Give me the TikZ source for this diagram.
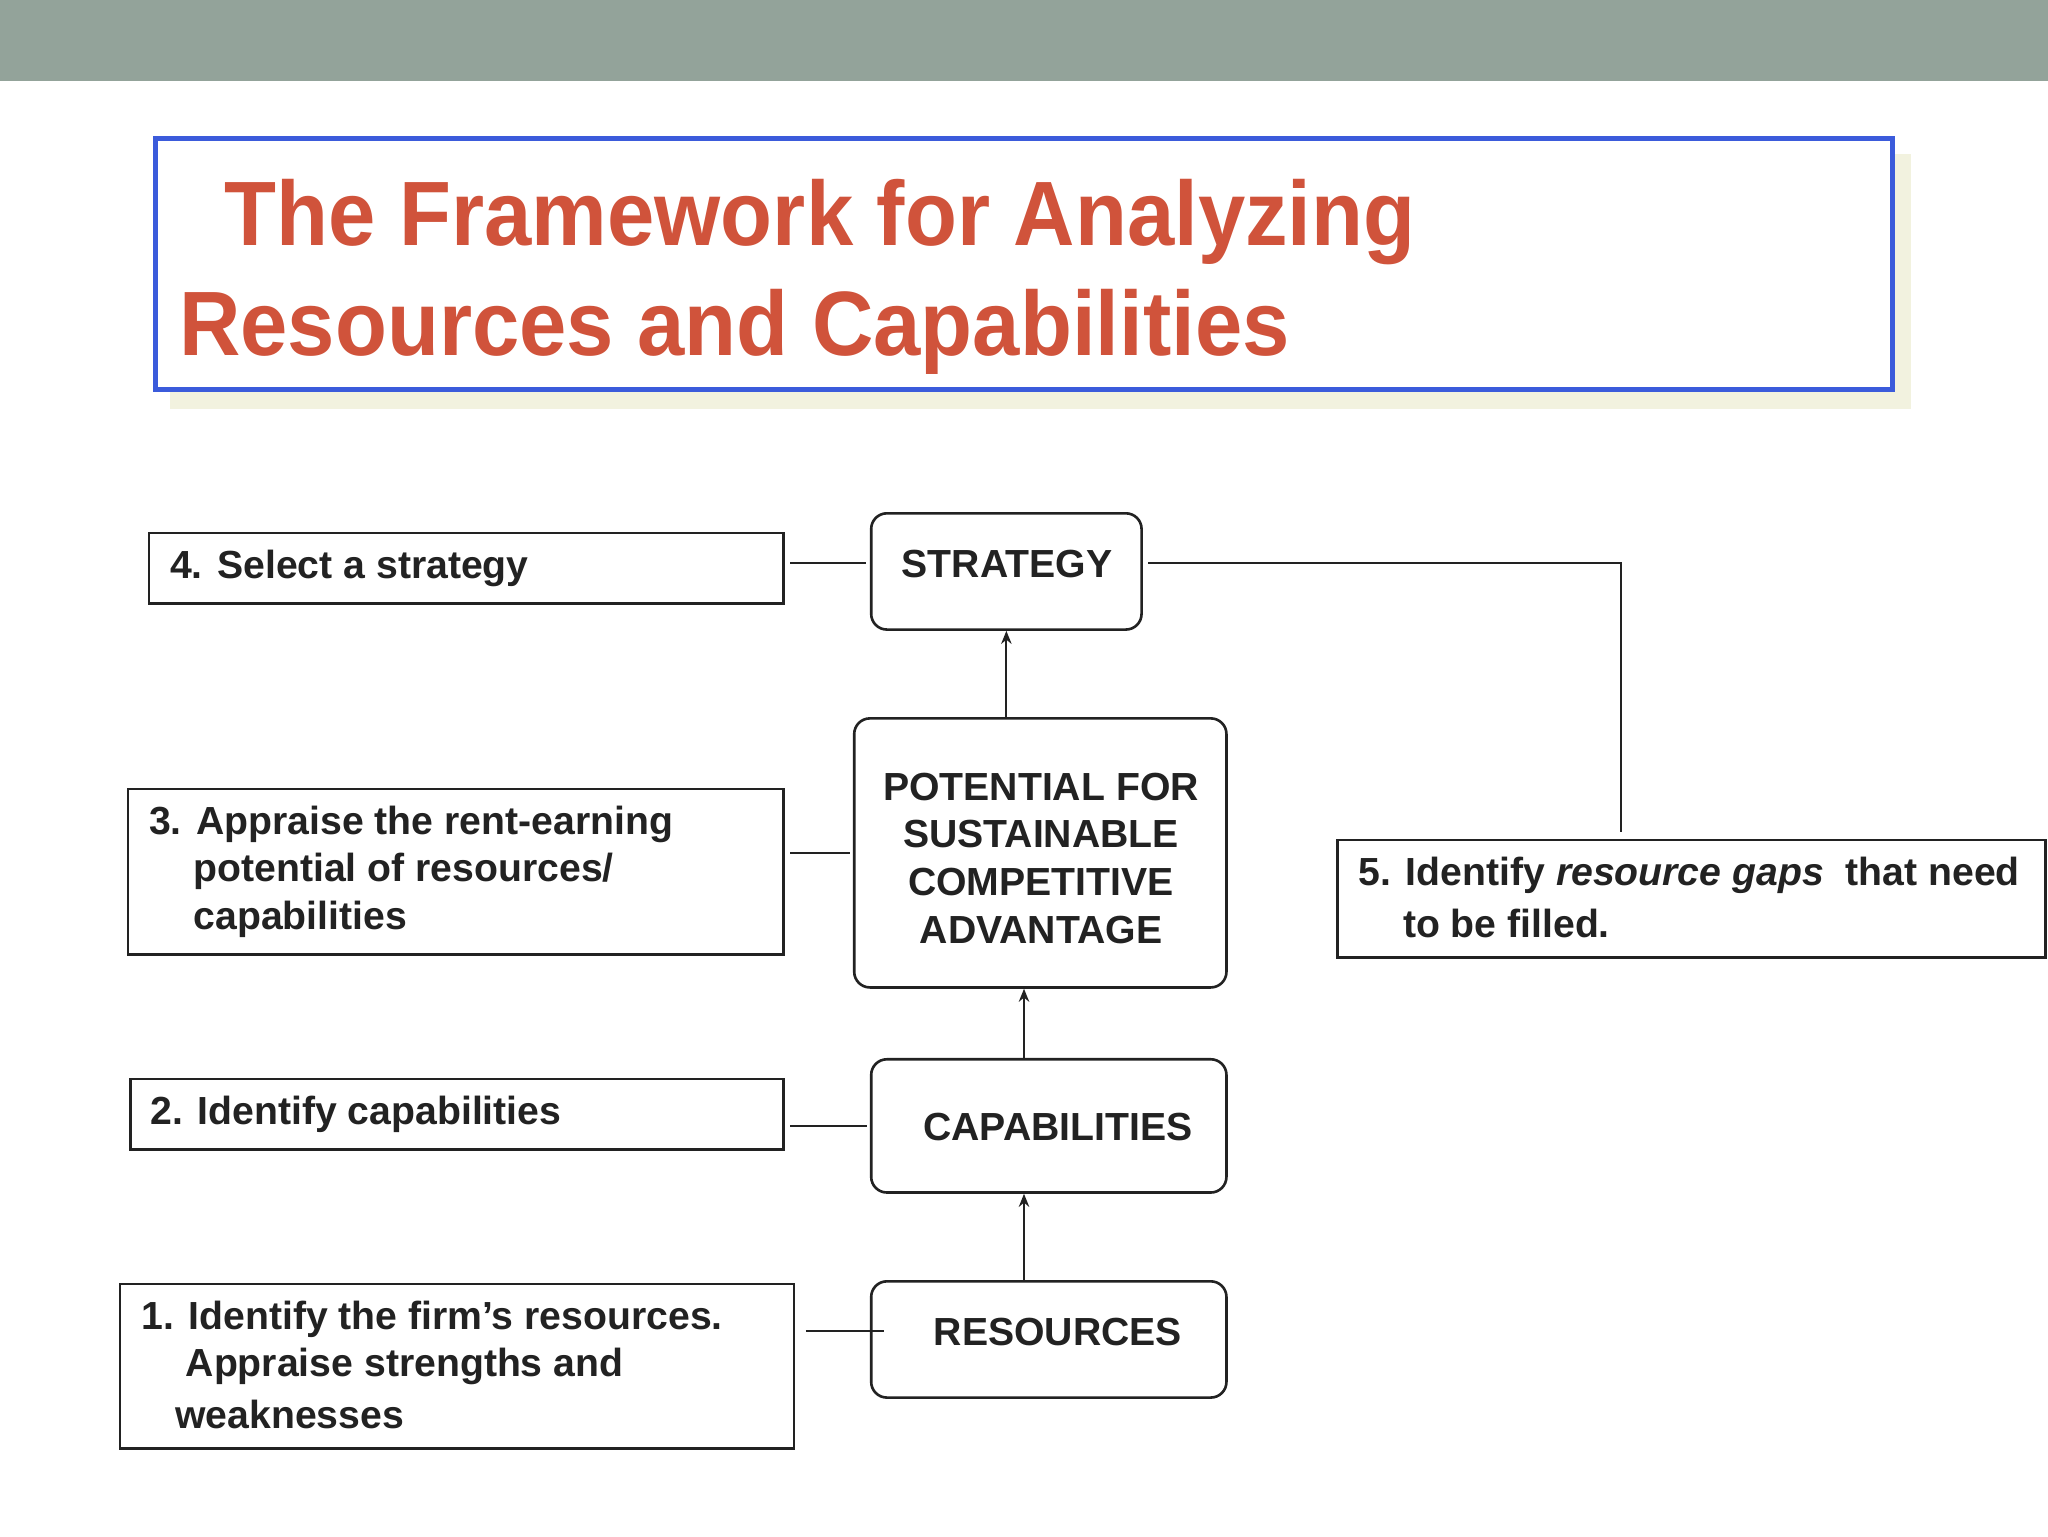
\documentclass[tikz,border=0pt]{standalone}
\usepackage{fontspec}
\setmainfont{Liberation Sans}
\usetikzlibrary{arrows.meta}
\definecolor{band}{HTML}{93A39A}
\definecolor{ttl}{HTML}{D0533B}
\definecolor{tbox}{HTML}{3B5BDB}
\definecolor{shad}{HTML}{F2F2DF}
\definecolor{ink}{HTML}{222222}
\tikzset{
 lab/.style={font=\fontsize{30}{36}\selectfont\bfseries, text=ink, inner sep=0pt, anchor=west},
 cen/.style={font=\fontsize{30}{36}\selectfont\bfseries, text=ink, inner sep=0pt},
 sqbox/.style={draw=ink, line width=2pt, inner sep=0pt},
 rbox/.style={draw=ink, line width=2pt, rounded corners=12pt, inner sep=0pt},
 conn/.style={draw=ink, line width=1.5pt},
 arr/.style={conn, -{Stealth[length=10pt,width=8pt]}},
 ttxt/.style={font=\fontsize{70}{80}\selectfont\bfseries, text=ttl, inner sep=0pt, anchor=base west}
}
\begin{document}
\begin{tikzpicture}[x=1pt,y=-1pt]
\useasboundingbox (0,0) rectangle (1568,1176);
\fill[white] (0,0) rectangle (1568,1176);
\fill[band] (0,0) rectangle (1568,62);
\fill[shad] (130,118) rectangle (1463,313);
\node[draw=tbox, line width=3.5pt, fill=white, minimum width=1330pt, minimum height=192pt, inner sep=0pt] (tb) at (784,202) {};
\node[ttxt] (t1) at (172,188) {\scalebox{0.93}[1]{The Framework for Analyzing}};
\node[ttxt] (t2) at (137,272) {\scalebox{0.93}[1]{Resources and Capabilities}};

% left label boxes
\node[sqbox, minimum width=486pt, minimum height=54pt] (l4) at (357,435) {};
\node[lab] at (130,435) {4. Select a strategy};
\node[sqbox, minimum width=502pt, minimum height=127pt] (l3) at (349,667.5) {};
\node[lab] at (114,631) {3. Appraise the rent-earning};
\node[lab] at (148,667) {potential of resources/};
\node[lab] at (148,704) {capabilities};
\node[sqbox, minimum width=500pt, minimum height=54pt] (l2) at (350,853) {};
\node[lab] at (115,853) {2. Identify capabilities};
\node[sqbox, minimum width=516pt, minimum height=126pt] (l1) at (350,1046) {};
\node[lab] at (108,1010) {1. Identify the firm’s resources.};
\node[lab] at (142,1046) {Appraise strengths and};
\node[lab] at (134,1083) {weaknesses};
\node[sqbox, minimum width=542pt, minimum height=90pt] (l5) at (1295,688) {};
\node[lab] at (1040,670) {5. Identify \textit{resource gaps}\ \ that need};
\node[lab] at (1074,707) {to be filled.};

% center boxes
\node[rbox, minimum width=207pt, minimum height=89pt] (st) at (770.5,437.5) {};
\node[cen] at (771,432) {STRATEGY};
\node[rbox, minimum width=285pt, minimum height=206pt] (pt) at (796.5,653) {};
\node[cen, align=center, font=\fontsize{30}{36.5}\selectfont\bfseries] at (797,657) {POTENTIAL FOR\\SUSTAINABLE\\COMPETITIVE\\ADVANTAGE};
\node[rbox, minimum width=272pt, minimum height=102pt] (cp) at (803,862) {};
\node[cen] at (810,863) {CAPABILITIES};
\node[rbox, minimum width=272pt, minimum height=89pt] (rs) at (803,1025.5) {};
\node[cen] at (810,1020) {RESOURCES};

% connectors
\coordinate (a4) at ([xshift=4pt,yshift=4pt]l4.east);
\coordinate (a3) at ([xshift=4pt,yshift=14.5pt]l3.east);
\coordinate (a2) at ([xshift=4pt,yshift=-9pt]l2.east);
\coordinate (a1) at ([xshift=8pt,yshift=27pt]l1.east);
\coordinate (as) at ([xshift=4pt,yshift=6.5pt]st.east);
\coordinate (c5) at (1241,431);
\coordinate (e5) at ([yshift=5pt]l5.north -| c5);
\draw[conn] (a4) -- ([xshift=-3pt]st.west |- a4);
\draw[conn] (a3) -- ([xshift=-2pt]pt.west |- a3);
\draw[conn] (a2) -- ([xshift=-2pt]cp.west |- a2);
\draw[conn] (a1) -- ([xshift=11pt]rs.west |- a1);
\draw[conn] (as) -- (c5) -- (e5);
\coordinate (x1) at (784,0);
\draw[arr] (pt.north -| st.south) -- (st.south);
\draw[arr] (cp.north -| x1) -- (pt.south -| x1);
\draw[arr] (rs.north -| x1) -- (cp.south -| x1);
\end{tikzpicture}
\end{document}
